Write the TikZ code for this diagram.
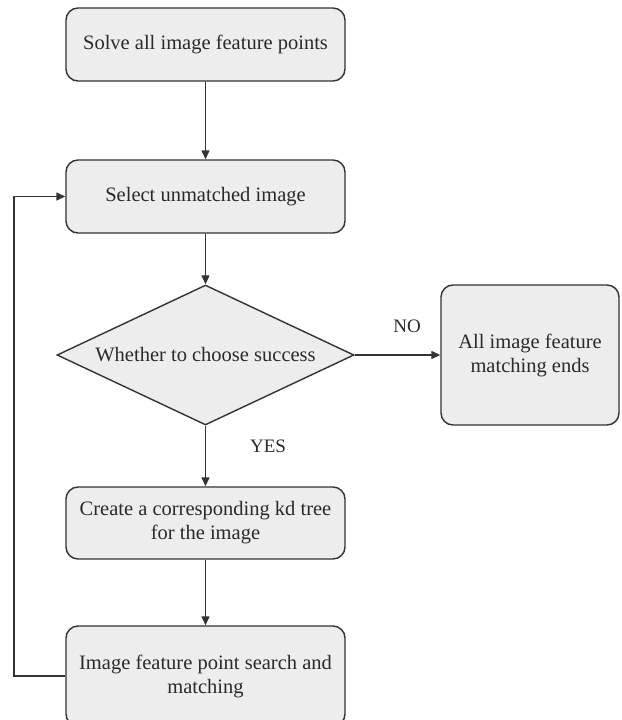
\documentclass[tikz,border=0pt]{standalone}
\usepackage{fontspec}
\setmainfont{Liberation Serif}
\usetikzlibrary{arrows.meta,shapes.geometric}
\definecolor{boxfill}{HTML}{EDEDED}
\definecolor{edge}{HTML}{333333}
\definecolor{ink}{HTML}{2A2A2A}
\begin{document}
\begin{tikzpicture}[x=1pt,y=-1pt,
  every node/.style={font=\fontsize{20.5}{24}\selectfont, text=ink},
  procbox/.style={draw=edge, fill=boxfill, line width=1.4pt, rounded corners=12pt,
    minimum width=279pt, inner sep=0pt, align=center},
  decision/.style={draw=edge, fill=boxfill, line width=1.4pt, shape=diamond,
    aspect=2.12, minimum width=297pt, minimum height=140pt, inner sep=0pt, align=center},
  flow/.style={draw=edge, line width=1.4pt, -{Triangle[length=9pt,width=8pt]}},
  tag/.style={font=\fontsize{19}{22}\selectfont}]
\useasboundingbox (0,0) rectangle (621,720);
\node[procbox, minimum height=73pt] (solve) at (205.5,44.5) {Solve all image feature points};
\node[procbox, minimum height=73pt] (select) at (205.5,196.5) {Select unmatched image};
\node[decision] (check) at (205.5,355) {Whether to choose success};
\node[procbox, minimum width=178pt, minimum height=140pt] (ends) at (530,355) {All image feature\\matching ends};
\node[procbox, minimum height=72pt] (kdtree) at (205.5,523) {Create a corresponding kd tree\\for the image};
\node[procbox, minimum height=100pt] (search) at (205.5,676) {Image feature point search and\\matching};
\coordinate (loopbot) at (14,676);
\coordinate (looptop) at (14,196.5);
\draw[flow] (solve) -- (select);
\draw[flow] (select) -- (check);
\draw[flow] (check) -- (ends);
\node[tag] (no) at (407,326) {NO};
\draw[flow] (check) -- (kdtree);
\node[tag] (yes) at (268,446) {YES};
\draw[flow] (kdtree) -- (search);
\draw[flow] (search.west) -- (loopbot) -- (looptop) -- (select.west);
\end{tikzpicture}
\end{document}
